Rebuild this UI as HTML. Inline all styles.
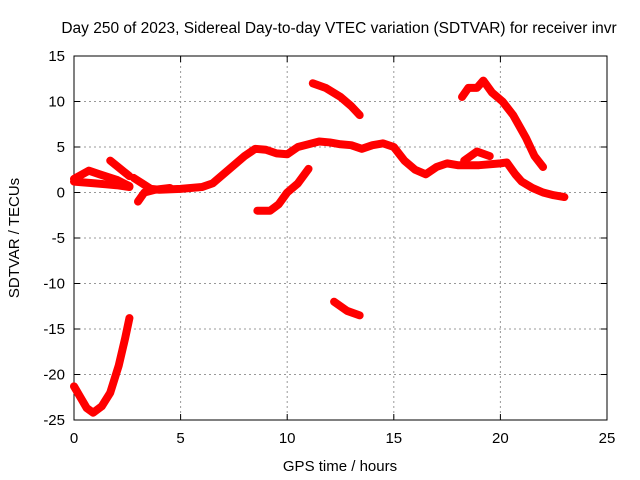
<!DOCTYPE html>
<html><head><meta charset="utf-8"><style>
body{margin:0;background:#fff}
svg{display:block;font-family:"Liberation Sans",sans-serif}
</style></head><body>
<svg id="c" width="640" height="480"></svg>
<script>
const xTicks=[0,5,10,15,20,25];
const yTicks=[-25,-20,-15,-10,-5,0,5,10,15];
const segMain=[[2.8,1.6],[3.2,1],[3.6,0.4],[4,0.3],[5,0.4],[6,0.6],[6.5,1],[7,2],[7.5,3],[8,4],[8.5,4.8],[9,4.7],[9.5,4.3],[10,4.2],[10.5,5],[11,5.3],[11.5,5.6],[12,5.5],[12.5,5.3],[13,5.2],[13.5,4.8],[14,5.2],[14.5,5.4],[15,5],[15.5,3.5],[16,2.5],[16.5,2],[17,2.8],[17.5,3.2],[18,3],[19,3],[20,3.2],[20.3,3.3],[20.7,2],[21,1.2],[21.5,0.5],[22,0],[22.5,-0.3],[23,-0.5]];
const segEarly=[[0,1.2],[0.5,1.1],[1,1.0],[1.5,0.9],[2,0.8],[2.6,0.6]];
const segEarly2=[[0,1.5],[0.7,2.4],[1.2,2.0],[2,1.4],[2.6,0.7]];
const segShort=[[1.7,3.5],[2.6,1.8]];
const segDip=[[3,-1],[3.3,0],[3.8,0.3],[4.5,0.5]];
const segBump=[[18.3,3.5],[18.9,4.5],[19.5,4.0]];
const segD=[[8.6,-2],[9.2,-2],[9.6,-1.3],[10,0],[10.5,1],[11,2.6]];
const segE=[[11.2,12],[11.8,11.5],[12.5,10.5],[13,9.5],[13.4,8.5]];
const segF=[[12.2,-12],[12.8,-13],[13.4,-13.5]];
const segG=[[0,-21.3],[0.3,-22.5],[0.6,-23.7],[0.9,-24.2],[1.3,-23.5],[1.7,-22],[2.1,-19],[2.4,-16],[2.6,-13.8]];
const segH=[[18.2,10.5],[18.5,11.5],[18.9,11.5],[19.2,12.3],[19.6,11],[20.1,10],[20.6,8.5],[21.2,6],[21.6,4],[22,2.8]];
const series=[segMain,segEarly,segEarly2,segShort,segDip,segBump,segD,segE,segF,segG,segH];
const L=74,R=607,T=56,B=420;
const X=v=>L+(v-0)/25*(R-L);
const Y=v=>B-(v+25)/40*(B-T);
const s=document.getElementById('c');const NS='http://www.w3.org/2000/svg';
function mk(t,a,txt){const e=document.createElementNS(NS,t);for(const k in a)e.setAttribute(k,a[k]);if(txt!=null)e.textContent=txt;s.appendChild(e);return e;}
xTicks.forEach(v=>{
 if(v>0&&v<25){const g=mk('line',{x1:X(v),x2:X(v),y1:T,y2:B,stroke:'#999','stroke-dasharray':'2,3'});
 
 }
 mk('line',{x1:X(v),x2:X(v),y1:B,y2:B-6,stroke:'#000'});mk('line',{x1:X(v),x2:X(v),y1:T,y2:T+6,stroke:'#000'});
 const t=mk('text',{x:X(v),y:B+23,'text-anchor':'middle','font-size':15},v);
 
 
});
yTicks.forEach(v=>{
 if(v>-25&&v<15){const g=mk('line',{x1:L,x2:R,y1:Y(v),y2:Y(v),stroke:'#999','stroke-dasharray':'2,3'});
 
 }
 mk('line',{x1:L,x2:L+6,y1:Y(v),y2:Y(v),stroke:'#000'});mk('line',{x1:R,x2:R-6,y1:Y(v),y2:Y(v),stroke:'#000'});
 const t=mk('text',{x:L-9,y:Y(v)+5,'text-anchor':'end','font-size':15},v);
 
 
});
const fr=mk('rect',{x:L,y:T,width:R-L,height:B-T,fill:'none',stroke:'#000'});


series.forEach(d=>{
 const p=mk('polyline',{points:d.map(q=>X(q[0])+','+Y(q[1])).join(' '),fill:'none',stroke:'#f00','stroke-width':8,'stroke-linejoin':'round','stroke-linecap':'round'});
 
 
});
const ti=mk('text',{x:339,y:33,'text-anchor':'middle','font-size':15.5},'Day 250 of 2023, Sidereal Day-to-day VTEC variation (SDTVAR) for receiver invr');


const xt=mk('text',{x:340,y:471,'text-anchor':'middle','font-size':15},'GPS time / hours');


const yt=mk('text',{x:0,y:0,'text-anchor':'middle','font-size':15,transform:'translate(19,238) rotate(-90)'},'SDTVAR / TECUs');


</script>
</body></html>
